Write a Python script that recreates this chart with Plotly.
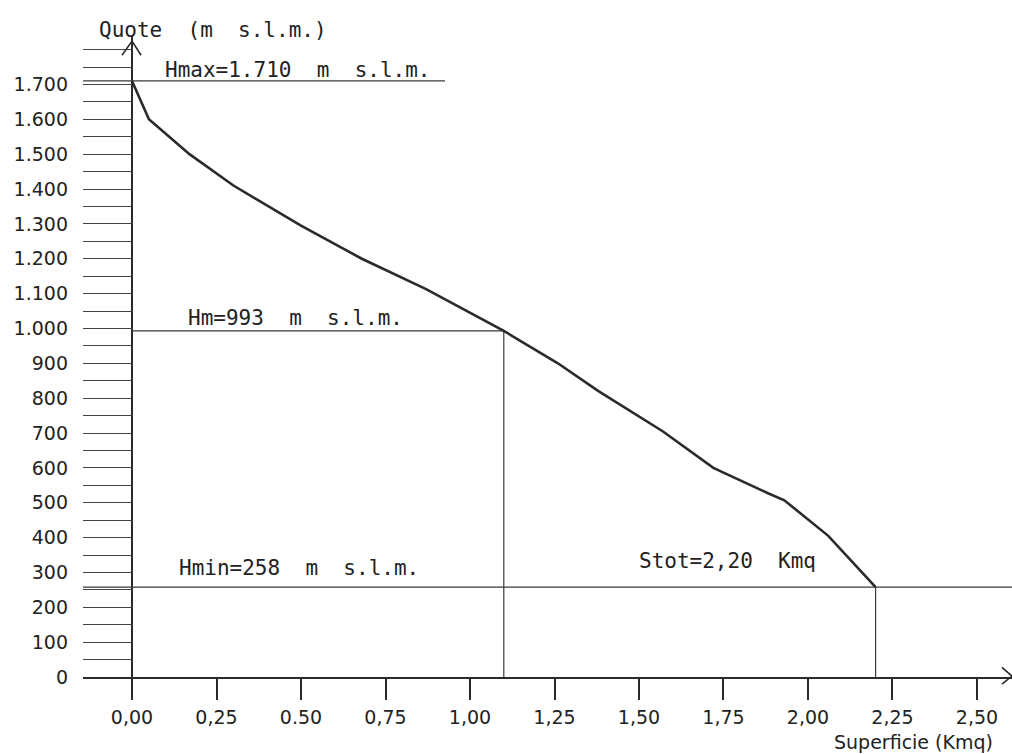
import plotly.graph_objects as go

# ---- data ----
superficie = [0.00, 0.05, 0.17, 0.30, 0.50, 0.68, 0.87, 1.10, 1.26, 1.38, 1.57, 1.72, 1.88, 1.93, 2.06, 2.20]
quote      = [1710, 1600, 1500, 1410, 1295, 1200, 1113, 993, 900, 820, 705, 600, 528, 507, 405, 258]

H_max = 1710
H_med = 993
H_min = 258
S_med = 1.10
S_tot = 2.20
H_max_line_end = 0.926

x_tick_vals   = [0.00, 0.25, 0.50, 0.75, 1.00, 1.25, 1.50, 1.75, 2.00, 2.25, 2.50]
x_tick_labels = ["0,00", "0,25", "0.50", "0,75", "1,00", "1,25", "1,50", "1,75", "2,00", "2,25", "2,50"]
y_label_vals  = [0, 100, 200, 300, 400, 500, 600, 700, 800, 900, 1000, 1100, 1200, 1300, 1400, 1500, 1600, 1700]
y_label_texts = ["0", "100", "200", "300", "400", "500", "600", "700", "800", "900",
                 "1.000", "1.100", "1.200", "1.300", "1.400", "1.500", "1.600", "1.700"]
y_minor_vals  = [50, 150, 250, 350, 450, 550, 650, 750, 850, 950, 1050, 1150, 1250, 1350,
                 1450, 1550, 1650, 1750, 1800]

title_y = "Quote  (m  s.l.m.)"
title_x = "Superficie (Kmq)"
lbl_hmax = "Hmax=1.710  m  s.l.m."
lbl_hm = "Hm=993  m  s.l.m."
lbl_hmin = "Hmin=258  m  s.l.m."
lbl_stot = "Stot=2,20  Kmq"

# ---- figure ----
W, H = 1012, 754
ML, MR, MT, MB = 83, 0, 36, 77
X_RANGE = [-0.145, 2.6036]
Y_RANGE = [0, 1839]

INK = "#2a2a2a"
THIN = "#3a3a3a"
CAD = "DejaVu Sans Mono"
SANS = "DejaVu Sans"

fig = go.Figure()

# reference lines
fig.add_trace(go.Scatter(x=[X_RANGE[0], H_max_line_end], y=[H_max, H_max], mode="lines",
                         line=dict(color=THIN, width=1.2), hoverinfo="skip", showlegend=False))
fig.add_trace(go.Scatter(x=[0, S_med, S_med], y=[H_med, H_med, 0], mode="lines",
                         line=dict(color=THIN, width=1.2), hoverinfo="skip", showlegend=False))
fig.add_trace(go.Scatter(x=[X_RANGE[0], X_RANGE[1]], y=[H_min, H_min], mode="lines",
                         line=dict(color=THIN, width=1.2), hoverinfo="skip", showlegend=False))
fig.add_trace(go.Scatter(x=[S_tot, S_tot], y=[H_min, 0], mode="lines",
                         line=dict(color=THIN, width=1.2), hoverinfo="skip", showlegend=False))

# hypsographic curve
fig.add_trace(go.Scatter(x=superficie, y=quote, mode="lines",
                         line=dict(color=INK, width=2.6), showlegend=False))

all_y_ticks = sorted(y_label_vals + y_minor_vals)
all_y_text = [y_label_texts[y_label_vals.index(v)] if v in y_label_vals else "" for v in all_y_ticks]

fig.update_layout(
    width=W, height=H,
    margin=dict(l=ML, r=MR, t=MT, b=MB),
    paper_bgcolor="white", plot_bgcolor="white",
    showlegend=False,
    xaxis=dict(
        range=X_RANGE, showgrid=False,
        zeroline=True, zerolinecolor=INK, zerolinewidth=2.4,
        showline=True, linecolor=INK, linewidth=2.4,
        ticks="outside", ticklen=21, tickwidth=2.2, tickcolor=INK,
        tickvals=x_tick_vals, ticktext=x_tick_labels,
        tickfont=dict(family=SANS, size=19, color="#222"),
        ticklabelstandoff=1,
    ),
    yaxis=dict(
        range=Y_RANGE, showgrid=False, zeroline=False, showline=False,
        ticks="inside", ticklen=49, tickwidth=1.3, tickcolor="#444",
        tickvals=all_y_ticks, ticktext=all_y_text,
        tickfont=dict(family=SANS, size=19, color="#222"),
        ticklabelstandoff=14,
    ),
)

# arrows at the ends of the axes
x0p = (0 - X_RANGE[0]) / (X_RANGE[1] - X_RANGE[0])
fig.add_shape(type="path", xref="paper", yref="paper",
              path=f"M {x0p-0.0108},0.970 L {x0p},0.992 L {x0p+0.0098},0.970",
              line=dict(color=INK, width=1.6))
fig.add_shape(type="path", xref="paper", yref="paper",
              path="M 0.9892,0.0150 L 1.0,0.0015 L 0.9892,-0.0110",
              line=dict(color=INK, width=1.6))

ann_font = dict(family=CAD, size=21, color="#222")
fig.add_annotation(x=0.0917, y=H_max, xref="x", yref="y", text=lbl_hmax, showarrow=False,
                   xanchor="left", yanchor="bottom", yshift=-3, font=ann_font)
fig.add_annotation(x=0.160, y=H_med, xref="x", yref="y", text=lbl_hm, showarrow=False,
                   xanchor="left", yanchor="bottom", yshift=-1, font=ann_font)
fig.add_annotation(x=0.133, y=H_min, xref="x", yref="y", text=lbl_hmin, showarrow=False,
                   xanchor="left", yanchor="bottom", yshift=5, font=ann_font)
fig.add_annotation(x=1.494, y=H_min, xref="x", yref="y", text=lbl_stot, showarrow=False,
                   xanchor="left", yanchor="bottom", yshift=12, font=ann_font)
fig.add_annotation(x=0.0151, y=0.9875, xref="paper", yref="paper", text=title_y, showarrow=False,
                   xanchor="left", yanchor="bottom", font=ann_font)
fig.add_annotation(x=0.9817, y=-0.1014, xref="paper", yref="paper", text=title_x, showarrow=False,
                   xanchor="right", yanchor="middle", font=dict(family=SANS, size=19, color="#222"))

fig.write_html("out.html", config={"displayModeBar": False},
               post_script="document.body.style.margin='0';")
